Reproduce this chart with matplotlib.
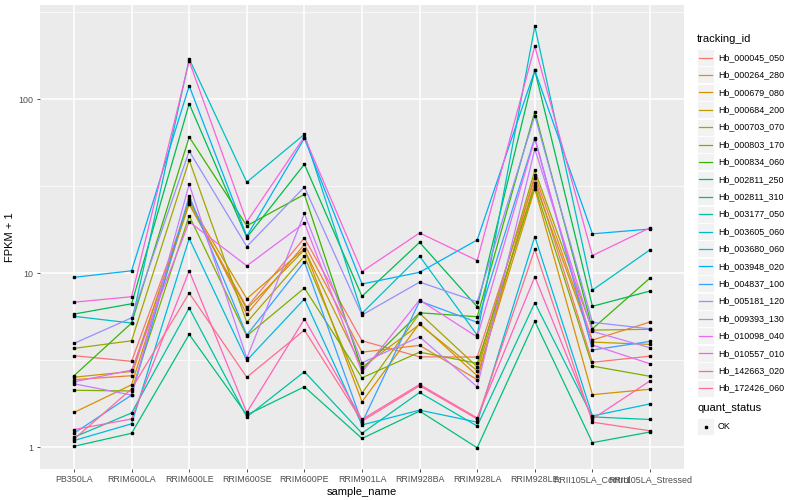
import numpy as np
import matplotlib
matplotlib.use("Agg")
import matplotlib.pyplot as plt
from matplotlib.lines import Line2D
from matplotlib.patches import Rectangle

plt.rcParams['font.family'] = ['Liberation Sans', 'DejaVu Sans']

samples = ["PB350LA", "RRIM600LA", "RRIM600LE", "RRIM600SE", "RRIM600PE",
           "RRIM901LA", "RRIM928BA", "RRIM928LA", "RRIM928LE",
           "RRII105LA_Control", "RRII105LA_Stressed"]

genes = ["Hb_000045_050", "Hb_000264_280", "Hb_000679_080", "Hb_000684_200",
         "Hb_000703_070", "Hb_000803_170", "Hb_000834_060", "Hb_002811_250",
         "Hb_002811_310", "Hb_003177_050", "Hb_003605_060", "Hb_003680_060",
         "Hb_003948_020", "Hb_004837_100", "Hb_005181_120", "Hb_009393_130",
         "Hb_010098_040", "Hb_010557_010", "Hb_142663_020", "Hb_172426_060"]

# ggplot default hue palette for 20 levels
colors = ["#F8766D", "#EA8331", "#D89000", "#C09B00", "#A3A500", "#7CAE00",
          "#39B600", "#00BB4E", "#00BF7D", "#00C1A3", "#00BFC4", "#00BAE0",
          "#00B0F6", "#35A2FF", "#9590FF", "#C77CFF", "#E76BF3", "#FA62DB",
          "#FF62BC", "#FF6C91"]

# FPKM + 1, one row per gene, one column per sample
fpkm = [
    [3.35, 3.11, 25.0, 6.35, 15.9, 4.08, 3.30, 3.29, 35.1, 3.07, 3.33],
    [2.44, 2.57, 26.5, 5.79, 14.6, 3.51, 3.84, 2.44, 36.7, 4.12, 5.23],
    [1.58, 2.28, 25.6, 7.12, 13.8, 1.82, 5.14, 2.57, 30.5, 2.00, 2.15],
    [2.52, 2.72, 24.9, 6.21, 13.6, 2.87, 5.07, 2.75, 33.0, 4.01, 3.89],
    [3.69, 4.08, 44.6, 5.21, 12.5, 2.04, 5.87, 2.89, 38.9, 4.70, 4.75],
    [2.12, 2.10, 21.3, 4.35, 8.20, 2.50, 3.51, 3.03, 31.5, 2.92, 2.55],
    [2.57, 5.16, 60.5, 18.7, 28.3, 2.80, 5.91, 5.61, 84.5, 4.78, 9.36],
    [5.81, 6.66, 94.0, 16.0, 42.2, 7.35, 15.0, 6.40, 146, 6.44, 7.88],
    [1.01, 1.20, 4.44, 1.53, 2.22, 1.12, 1.61, 0.99, 5.28, 1.06, 1.22],
    [1.14, 1.57, 6.29, 1.49, 2.71, 1.20, 2.06, 1.32, 6.75, 1.49, 1.44],
    [5.64, 5.16, 170, 33.3, 62.7, 5.87, 12.5, 4.40, 262, 7.98, 13.6],
    [1.09, 1.36, 15.8, 3.15, 7.09, 1.34, 1.63, 1.39, 16.2, 1.51, 1.77],
    [9.45, 10.3, 119, 16.3, 59.4, 8.65, 10.1, 15.5, 146, 16.8, 17.9],
    [1.20, 1.99, 27.7, 4.40, 11.6, 1.38, 6.90, 5.21, 59.9, 3.61, 4.05],
    [3.94, 5.53, 50.2, 14.2, 31.2, 5.74, 8.87, 6.84, 80.2, 5.21, 4.78],
    [2.31, 1.99, 32.4, 3.24, 22.0, 3.05, 4.30, 2.22, 51.6, 4.62, 3.72],
    [2.37, 2.77, 19.7, 11.0, 19.4, 2.69, 7.00, 4.29, 58.9, 3.86, 3.01],
    [6.80, 7.31, 165, 19.7, 60.7, 10.2, 17.0, 11.8, 201, 12.6, 18.2],
    [1.26, 1.45, 10.3, 1.58, 5.44, 1.44, 2.29, 1.47, 9.52, 1.45, 2.40],
    [1.11, 2.16, 7.67, 2.52, 4.70, 1.41, 2.25, 1.45, 13.7, 1.39, 1.24],
]

fig = plt.figure(figsize=(8, 5), dpi=100)
ax = fig.add_axes([40 / 800, 31 / 500, 644 / 800, 464 / 500])
ax.set_facecolor("#EBEBEB")

x = np.arange(len(samples))
for i, g in enumerate(genes):
    ax.plot(x, fpkm[i], color=colors[i], lw=0.9, zorder=3)
for i, g in enumerate(genes):
    ax.plot(x, fpkm[i], ls="none", marker="s", ms=2.1, color="black", zorder=4)

ax.set_yscale("log")
ax.set_ylim(0.748, 347)
ax.set_xlim(-0.59, 10.59)

# grid like ggplot: major at decades, minor at half decades
for v in [1, 10, 100]:
    ax.axhline(v, color="white", lw=1.1, zorder=1)
for v in [10 ** 0.5, 10 ** 1.5, 10 ** 2.5]:
    ax.axhline(v, color="white", lw=0.5, zorder=1)
for xi in x:
    ax.axvline(xi, color="white", lw=1.1, zorder=1)

ax.set_yticks([1, 10, 100])
ax.set_yticklabels(["1", "10", "100"])
ax.yaxis.set_minor_locator(matplotlib.ticker.NullLocator())
ax.set_xticks(x)
ax.set_xticklabels(samples)
ax.tick_params(axis="both", length=2.5, width=0.6, color="#333333",
               labelsize=6.4, labelcolor="#4D4D4D", pad=2)
for s in ax.spines.values():
    s.set_visible(False)

ax.set_xlabel("sample_name", fontsize=8, labelpad=2)
ax.set_ylabel("FPKM + 1", fontsize=8, labelpad=3)

# legend drawn in a pixel-coordinate overlay
lg = fig.add_axes([0, 0, 1, 1], facecolor="none")
lg.set_xlim(0, 800)
lg.set_ylim(500, 0)
lg.axis("off")

lg.text(697, 39, "tracking_id", fontsize=8, va="center", ha="left")
y0 = 57.5
dy = 17.4
for i, g in enumerate(genes):
    yy = y0 + i * dy
    lg.add_patch(Rectangle((697, yy - 8.5), 17, 17, facecolor="#F2F2F2",
                           edgecolor="white", lw=0.6))
    lg.add_line(Line2D([699, 712], [yy, yy], color=colors[i], lw=0.9))
    lg.text(718, yy, g, fontsize=6.4, va="center", ha="left")

lg.text(697, 408, "quant_status", fontsize=8, va="center", ha="left")
lg.add_patch(Rectangle((697, 418), 17, 17, facecolor="#F2F2F2",
                       edgecolor="white", lw=0.6))
lg.plot([705.5], [426.5], marker="s", ms=2.1, color="black")
lg.text(718, 426.5, "OK", fontsize=6.4, va="center", ha="left")

fig.savefig("out.png", dpi=100)
